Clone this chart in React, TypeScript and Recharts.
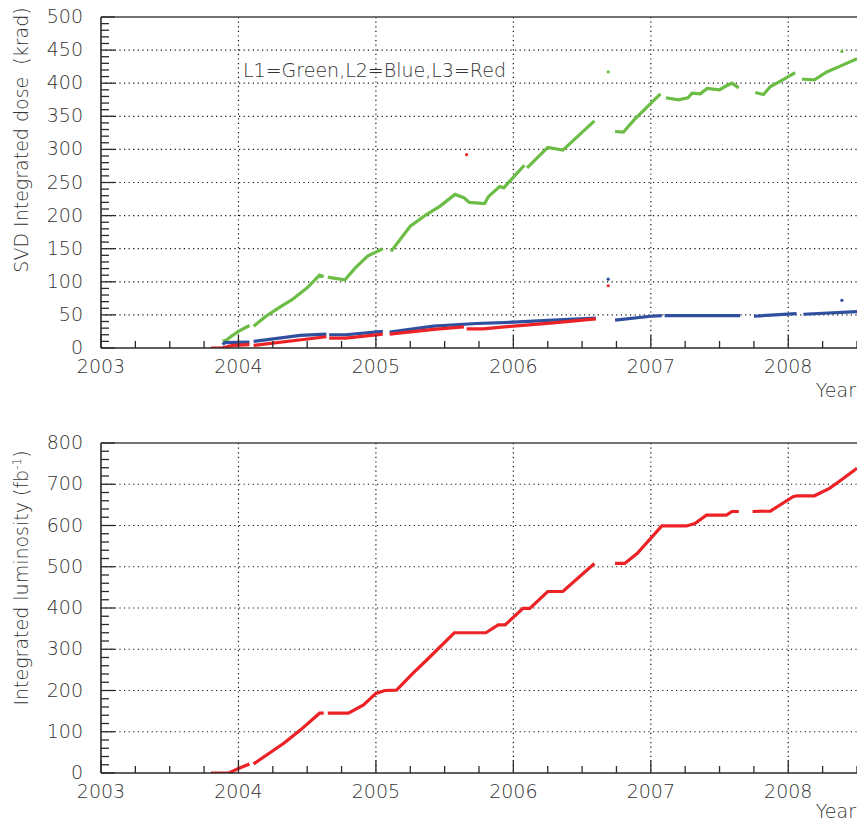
import React from 'react'
import {
  CartesianGrid,
  ComposedChart,
  Label,
  Line,
  ReferenceLine,
  Scatter,
  XAxis,
  YAxis,
} from 'recharts'

type Pt = [number, number | null]

// year ticks (quarterly minor ticks, labels on whole years)
const yearLabels = [2003, 2004, 2005, 2006, 2007, 2008]
const xTicks = [
  2003, 2003.25, 2003.5, 2003.75, 2004, 2004.25, 2004.5, 2004.75, 2005, 2005.25, 2005.5, 2005.75,
  2006, 2006.25, 2006.5, 2006.75, 2007, 2007.25, 2007.5, 2007.75, 2008, 2008.25, 2008.5,
]
const doseLabels = [0, 50, 100, 150, 200, 250, 300, 350, 400, 450, 500]
const lumiLabels = [0, 100, 200, 300, 400, 500, 600, 700, 800]

// SVD integrated dose (krad); null = gap in the record
const greenDose: Pt[] = [
  [2003.885, 10], [2003.914, 12], [2003.95, 18], [2004.0, 25], [2004.08, 34], [2004.095, null],
  [2004.11, 33], [2004.2, 48], [2004.31, 63], [2004.39, 73], [2004.5, 91], [2004.59, 110],
  [2004.62, 108], [2004.635, null], [2004.65, 107], [2004.68, 106], [2004.775, 103],
  [2004.85, 121], [2004.94, 139], [2005.05, 150], [2005.08, null], [2005.11, 146],
  [2005.25, 184], [2005.37, 202], [2005.465, 214], [2005.575, 232], [2005.64, 227],
  [2005.68, 220], [2005.79, 218], [2005.82, 229], [2005.9, 244], [2005.93, 242],
  [2006.08, 276], [2006.09, null], [2006.1, 272], [2006.25, 303], [2006.36, 299],
  [2006.59, 343], [2006.66, null], [2006.74, 327], [2006.8, 326], [2006.88, 345],
  [2007.07, 384], [2007.09, null], [2007.11, 378], [2007.2, 375], [2007.27, 378],
  [2007.3, 385], [2007.36, 384], [2007.41, 392], [2007.5, 390], [2007.54, 395],
  [2007.59, 400], [2007.64, 393], [2007.7, null], [2007.76, 386], [2007.82, 383],
  [2007.87, 395], [2007.97, 406], [2008.05, 416], [2008.085, null], [2008.1, 406],
  [2008.12, 406], [2008.19, 405], [2008.28, 417], [2008.37, 425], [2008.5, 437],
]
const blueDose: Pt[] = [
  [2003.885, 5], [2003.9, 8], [2004.08, 9], [2004.095, null], [2004.11, 10], [2004.45, 19],
  [2004.64, 21], [2004.65, null], [2004.66, 20], [2004.78, 20], [2005.05, 25], [2005.08, null],
  [2005.1, 24], [2005.42, 33], [2005.73, 37], [2006.0, 39], [2006.29, 42], [2006.6, 45],
  [2006.66, null], [2006.74, 42], [2007.0, 48], [2007.08, 49], [2007.09, null], [2007.1, 49],
  [2007.65, 49], [2007.7, null], [2007.75, 48], [2008.06, 52], [2008.085, null],
  [2008.11, 51], [2008.5, 55],
]
const redDose: Pt[] = [
  [2003.8, 0], [2003.88, 0], [2003.96, 4], [2004.08, 5], [2004.095, null], [2004.11, 4],
  [2004.64, 17], [2004.65, null], [2004.66, 15], [2004.78, 15], [2005.05, 21], [2005.08, null],
  [2005.1, 21], [2005.42, 28], [2005.64, 32], [2005.65, null], [2005.66, 29], [2005.78, 29],
  [2006.0, 33], [2006.29, 38], [2006.6, 44],
]
const greenStray: Pt[] = [[2006.69, 417], [2008.39, 448]]
const blueStray: Pt[] = [[2006.69, 104], [2008.39, 72]]
const redStray: Pt[] = [[2005.66, 292], [2006.69, 94]]

// integrated luminosity (fb^-1)
const luminosity: Pt[] = [
  [2003.8, 0], [2003.93, 0], [2004.0, 11], [2004.08, 22], [2004.095, null], [2004.11, 22],
  [2004.33, 72], [2004.45, 104], [2004.59, 145], [2004.62, 145], [2004.635, null],
  [2004.65, 145], [2004.8, 145], [2004.91, 165], [2005.0, 193], [2005.065, 200],
  [2005.15, 201], [2005.27, 242], [2005.37, 274], [2005.57, 340], [2005.8, 340],
  [2005.89, 359], [2005.94, 359], [2006.07, 399], [2006.12, 399], [2006.25, 440],
  [2006.36, 440], [2006.59, 508], [2006.66, null], [2006.74, 508], [2006.81, 508],
  [2006.9, 532], [2007.08, 599], [2007.26, 599], [2007.32, 605], [2007.405, 625],
  [2007.55, 625], [2007.59, 634], [2007.64, 634], [2007.7, null], [2007.74, 634],
  [2007.87, 635], [2008.035, 670], [2008.06, 672], [2008.19, 672], [2008.3, 690],
  [2008.4, 714], [2008.5, 739],
]

const GREEN = '#6cbd45'
const BLUE = '#2f4f9f'
const RED = '#ec2227'
const INK = '#2a2a2a'
const FONT = '"DejaVu Sans", sans-serif'
const FS = 18

const rows = (pts: Pt[]) => pts.map(([t, v]) => ({ t, v }))

const minorTicks = (max: number, step: number): number[] => {
  const out: number[] = []
  for (let v = 0; v <= max + 1e-9; v += step) out.push(v)
  return out
}

function XTick(props: any) {
  const { x, y, payload } = props
  const v = payload.value as number
  const major = yearLabels.includes(v)
  return (
    <g>
      <line x1={x} x2={x} y1={y} y2={y - (major ? 13 : 7)} stroke={INK} strokeWidth={1.3} />
      {major ? (
        <text x={x} y={y + 25} textAnchor="middle" fill="#333" fontSize={FS + 1} fontFamily={FONT} fontWeight={200}>
          {v}
        </text>
      ) : null}
    </g>
  )
}

function makeYTick(labels: number[]) {
  return function YTick(props: any) {
    const { x, y, payload } = props
    const v = payload.value as number
    const major = labels.includes(v)
    return (
      <g>
        <line x1={x} x2={x + (major ? 14 : 8)} y1={y} y2={y} stroke={INK} strokeWidth={1.3} />
        {major ? (
          <text x={x - 18} y={y + 6} textAnchor="end" fill="#333" fontSize={FS + 1} fontFamily={FONT} fontWeight={200}>
            {v}
          </text>
        ) : null}
      </g>
    )
  }
}

const dot = (color: string) => (p: any) => <circle cx={p.cx} cy={p.cy} r={1.6} fill={color} />

const textStyle = { fontFamily: FONT, fontSize: FS + 1, fill: '#333', fontWeight: 200 } as const

const gridProps = {
  stroke: '#111',
  strokeWidth: 1.2,
  strokeDasharray: '1.2 3.4',
}

export default function App() {
  const yearGrid = yearLabels.slice(1)
  return (
    <div style={{ position: 'absolute', left: 0, top: 0, width: 857, height: 826, background: '#fff' }}>
      <div style={{ position: 'absolute', left: 0, top: 0 }}>
        <ComposedChart width={857} height={420} margin={{ top: 17, right: 0, bottom: 0, left: 0 }}>
          <CartesianGrid
            horizontal
            vertical
            horizontalValues={doseLabels.slice(1, -1)}
            verticalValues={yearGrid}
            {...gridProps}
          />
          <XAxis
            dataKey="t"
            type="number"
            domain={[2003, 2008.5]}
            ticks={xTicks}
            interval={0}
            allowDataOverflow
            height={72}
            tickSize={0}
            tickMargin={0}
            tickLine={false}
            axisLine={{ stroke: INK, strokeWidth: 1.6 }}
            tick={<XTick />}
          >
            <Label
              content={() => (
                <text x={856} y={397} textAnchor="end" style={textStyle}>
                  Year
                </text>
              )}
            />
          </XAxis>
          <YAxis
            type="number"
            domain={[0, 500]}
            ticks={minorTicks(500, 10)}
            interval={0}
            allowDataOverflow
            width={101}
            tickSize={0}
            tickMargin={0}
            tickLine={false}
            axisLine={{ stroke: INK, strokeWidth: 1.6 }}
            tick={makeYTick(doseLabels)}
          >
            <Label
              content={() => (
                <g>
                  <text x={28} y={140} transform="rotate(-90 28 140)" textAnchor="middle" style={{ ...textStyle, whiteSpace: 'pre' }}>
                    {'SVD Integrated dose  (krad)'}
                  </text>
                  <text x={243} y={77} style={textStyle}>
                    L1=Green,L2=Blue,L3=Red
                  </text>
                </g>
              )}
            />
          </YAxis>
          <ReferenceLine y={500} stroke="#444" strokeWidth={1.6} />
          <Line data={rows(greenDose)} dataKey="v" stroke={GREEN} strokeWidth={3.2} dot={false} connectNulls={false} isAnimationActive={false} />
          <Line data={rows(blueDose)} dataKey="v" stroke={BLUE} strokeWidth={3.2} dot={false} connectNulls={false} isAnimationActive={false} />
          <Line data={rows(redDose)} dataKey="v" stroke={RED} strokeWidth={3.2} dot={false} connectNulls={false} isAnimationActive={false} />
          <Scatter data={rows(greenStray)} dataKey="v" shape={dot(GREEN)} isAnimationActive={false} />
          <Scatter data={rows(blueStray)} dataKey="v" shape={dot(BLUE)} isAnimationActive={false} />
          <Scatter data={rows(redStray)} dataKey="v" shape={dot(RED)} isAnimationActive={false} />
        </ComposedChart>
      </div>
      <div style={{ position: 'absolute', left: 0, top: 426 }}>
        <ComposedChart width={857} height={400} margin={{ top: 17, right: 0, bottom: 0, left: 0 }}>
          <CartesianGrid
            horizontal
            vertical
            horizontalValues={lumiLabels.slice(1, -1)}
            verticalValues={yearGrid}
            {...gridProps}
          />
          <XAxis
            dataKey="t"
            type="number"
            domain={[2003, 2008.5]}
            ticks={xTicks}
            interval={0}
            allowDataOverflow
            height={53}
            tickSize={0}
            tickMargin={0}
            tickLine={false}
            axisLine={{ stroke: INK, strokeWidth: 1.6 }}
            tick={<XTick />}
          >
            <Label
              content={() => (
                <text x={856} y={392} textAnchor="end" style={textStyle}>
                  Year
                </text>
              )}
            />
          </XAxis>
          <YAxis
            type="number"
            domain={[0, 800]}
            ticks={minorTicks(800, 20)}
            interval={0}
            allowDataOverflow
            width={101}
            tickSize={0}
            tickMargin={0}
            tickLine={false}
            axisLine={{ stroke: INK, strokeWidth: 1.6 }}
            tick={makeYTick(lumiLabels)}
          >
            <Label
              content={() => (
                <text x={28} y={152} transform="rotate(-90 28 152)" textAnchor="middle" style={textStyle}>
                  Integrated luminosity (fb
                  <tspan dy={-7} fontSize={12}>-1</tspan>
                  <tspan dy={7}>)</tspan>
                </text>
              )}
            />
          </YAxis>
          <ReferenceLine y={800} stroke="#444" strokeWidth={1.6} />
          <Line data={rows(luminosity)} dataKey="v" stroke={RED} strokeWidth={3.2} dot={false} connectNulls={false} isAnimationActive={false} />
        </ComposedChart>
      </div>
    </div>
  )
}
